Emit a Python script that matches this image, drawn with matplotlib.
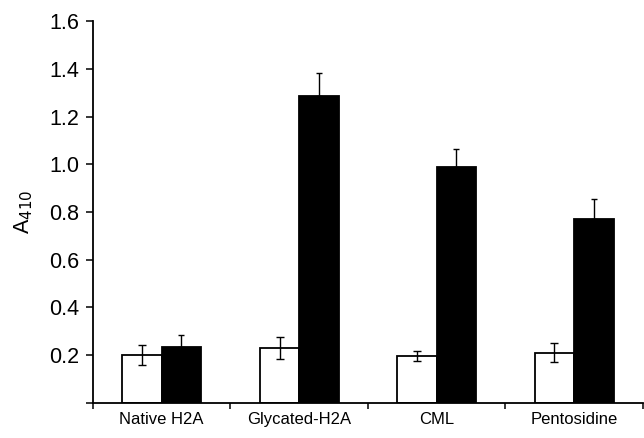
import matplotlib.pyplot as plt
import numpy as np

plt.rcParams['font.family'] = ['Liberation Sans', 'DejaVu Sans']

categories = ['Native H2A', 'Glycated-H2A', 'CML', 'Pentosidine']
white_vals = [0.20, 0.23, 0.195, 0.21]
white_err = [0.04, 0.047, 0.02, 0.04]
black_vals = [0.232, 1.287, 0.99, 0.769]
black_err = [0.052, 0.094, 0.072, 0.084]

fig = plt.figure(figsize=(6.44, 4.38), dpi=100)
ax = fig.add_axes([0.1444, 0.0806, 0.8540, 0.8712])

x = np.arange(len(categories))
w = 0.287
ax.bar(x - w / 2, white_vals, w, color='white', edgecolor='black', linewidth=1.3, zorder=2)
ax.errorbar(x - w / 2, white_vals, yerr=white_err, fmt='none', ecolor='black',
            elinewidth=1.0, capsize=3, capthick=1.0, zorder=3)
ax.bar(x + w / 2, black_vals, w, color='black', edgecolor='black', linewidth=1.3, zorder=2)
ax.errorbar(x + w / 2, black_vals, yerr=[np.zeros(len(black_err)), black_err], fmt='none',
            ecolor='black', elinewidth=1.0, capsize=2, capthick=1.0, zorder=3)

ax.set_xlim(-0.5, len(categories) - 0.5)
ax.set_ylim(0, 1.6)
ax.set_yticks([0.0, 0.2, 0.4, 0.6, 0.8, 1.0, 1.2, 1.4, 1.6])
ax.set_yticklabels(['', '0.2', '0.4', '0.6', '0.8', '1.0', '1.2', '1.4', '1.6'], fontsize=15.5)
ax.tick_params(axis='y', direction='out', length=5, width=1.1, pad=5)

ax.set_xticks(np.arange(len(categories) + 1) - 0.5)
ax.set_xticklabels([])
ax.set_xticks(x, minor=True)
ax.set_xticklabels(categories, minor=True, fontsize=12)
ax.tick_params(axis='x', which='major', direction='out', length=4, width=1.1)
ax.tick_params(axis='x', which='minor', length=0, pad=7)

ax.set_ylabel(r'A$_{410}$', fontsize=15.5, labelpad=10)

for side in ['top', 'right']:
    ax.spines[side].set_visible(False)
for side in ['left', 'bottom']:
    ax.spines[side].set_linewidth(1.3)

fig.savefig('out.png', dpi=100)
